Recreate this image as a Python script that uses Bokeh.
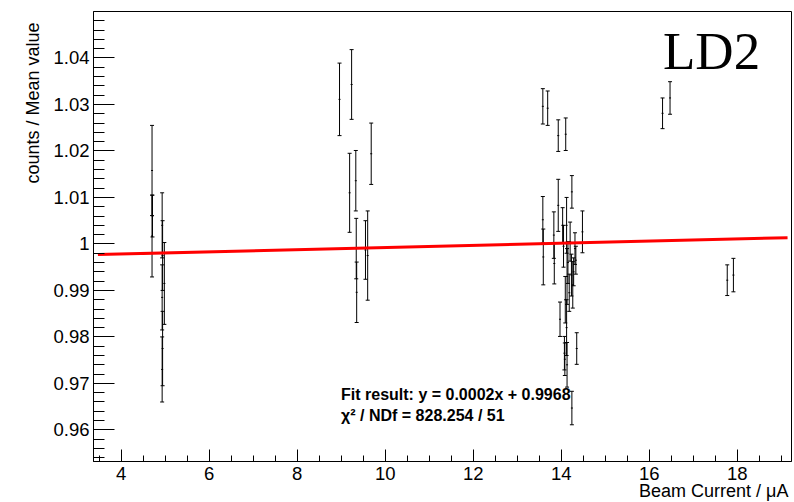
import math
from bokeh.plotting import figure
from bokeh.models import Range1d, FixedTicker, Label, ColumnDataSource, CustomJSTickFormatter, Title
from bokeh.embed import file_html
from bokeh.resources import INLINE

# ---------------- data ----------------
beam_current = [
    4.70, 4.71, 4.70, 4.93, 4.94, 4.93, 4.94, 4.93, 4.98,
    8.96, 9.235, 9.19, 9.33, 9.68, 9.34, 9.35, 9.55, 9.60,
    13.58, 13.69, 13.93, 14.10, 13.58, 13.59, 13.83, 13.84, 13.93, 14.24,
    14.03, 14.48, 14.12, 14.13, 14.12, 14.13, 14.20, 14.31, 14.23, 14.26,
    13.97, 14.35, 14.07, 14.08, 14.24, 14.15, 14.18, 14.28, 14.05, 14.09, 14.33,
    16.30, 16.47,
    17.77, 17.91,
]
ratio = [
    1.0158, 1.0060, 1.0017, 1.0040, 0.9975, 0.9885, 0.9775, 0.9730, 0.9915,
    1.0311, 1.0343, 1.0110, 1.0136, 1.0194, 0.9990, 0.9896, 0.9987, 0.9975,
    1.0296, 1.0292, 1.0233, 1.0236, 1.0052, 0.9972, 1.0019, 0.9958, 1.0083, 1.0112,
    1.0040, 1.0026, 1.0040, 0.9930, 0.9820, 0.9740, 1.0005, 0.9990, 0.9933, 0.9912,
    0.9838, 0.9775, 0.9765, 0.9752, 0.9647, 0.9960, 0.9895, 0.9940, 0.9995, 0.9880, 0.9965,
    1.0281, 1.0314,
    0.9922, 0.9933,
]
ratio_err = [
    0.0097, 0.0045, 0.0088, 0.0070, 0.0075, 0.0070, 0.0080, 0.0070, 0.0088,
    0.0078, 0.0075, 0.0085, 0.0065, 0.0066, 0.0065, 0.0065, 0.0063, 0.0096,
    0.0038, 0.0037, 0.0034, 0.0035, 0.0050, 0.0060, 0.0050, 0.0044, 0.0056, 0.0035,
    0.0038, 0.0045, 0.0060, 0.0060, 0.0060, 0.0048, 0.0042, 0.0034, 0.0045, 0.0050,
    0.0037, 0.0034, 0.0036, 0.0035, 0.0036, 0.0045, 0.0040, 0.0030, 0.0045, 0.0050, 0.0030,
    0.0033, 0.0035,
    0.0033, 0.0036,
]

fit_slope = 0.000232
fit_intercept = 0.9969
fit_x = [3.47, 19.14]

x_major = [4, 6, 8, 10, 12, 14, 16, 18]
x_minor = [3.5, 4.5, 5, 5.5, 6.5, 7, 7.5, 8.5, 9, 9.5, 10.5, 11, 11.5, 12.5, 13, 13.5,
           14.5, 15, 15.5, 16.5, 17, 17.5, 18.5, 19]
y_major = [0.96, 0.97, 0.98, 0.99, 1.00, 1.01, 1.02, 1.03, 1.04]
y_minor = [0.954, 0.956, 0.958, 0.962, 0.964, 0.966, 0.968, 0.972, 0.974, 0.976, 0.978,
           0.982, 0.984, 0.986, 0.988, 0.992, 0.994, 0.996, 0.998, 1.002, 1.004, 1.006,
           1.008, 1.012, 1.014, 1.016, 1.018, 1.022, 1.024, 1.026, 1.028, 1.032, 1.034,
           1.036, 1.038, 1.042, 1.044, 1.046, 1.048]

x_title = "Beam Current / \u03bcA"
y_title = "counts / Mean value"
fit_line1 = "Fit result: y = 0.0002x + 0.9968"
fit_line2 = "\u03c7\u00b2 / NDf = 828.254 / 51"
target_label = "LD2"

# ---------------- figure ----------------
W, H = 794, 502
p = figure(width=W, height=H, output_backend="svg", toolbar_location=None,
           x_range=Range1d(3.37, 19.23), y_range=Range1d(0.9532, 1.0500),
           min_border_left=93, min_border_right=3, min_border_top=11, min_border_bottom=41)
p.background_fill_color = "white"
p.border_fill_color = "white"
p.outline_line_color = "black"
p.outline_line_width = 1
p.xgrid.visible = False
p.ygrid.visible = False

font = "Liberation Sans"
for ax in (p.xaxis[0], p.yaxis[0]):
    ax.axis_line_color = "black"
    ax.major_tick_line_color = "black"
    ax.minor_tick_line_color = "black"
    ax.major_tick_out = 0
    ax.minor_tick_out = 0
    ax.major_label_text_font = font
    ax.major_label_text_font_size = "18.5px"
    ax.major_label_text_color = "black"
    ax.axis_label = None

p.xaxis[0].ticker = FixedTicker(ticks=x_major, minor_ticks=x_minor)
p.xaxis[0].major_tick_in = 12
p.xaxis[0].minor_tick_in = 6
p.xaxis[0].major_label_standoff = 5

p.yaxis[0].ticker = FixedTicker(ticks=y_major, minor_ticks=y_minor)
p.yaxis[0].major_tick_in = 21
p.yaxis[0].minor_tick_in = 11
p.yaxis[0].major_label_standoff = 4
p.yaxis[0].formatter = CustomJSTickFormatter(
    code="return tick.toFixed(2).replace(/\\.?0+$/, '');")
p.xaxis[0].formatter = CustomJSTickFormatter(code="return tick.toFixed(0);")

# ---------------- axis titles (as side titles, right-aligned like ROOT) ----------------
p.add_layout(Title(text=y_title, align="right", offset=11, standoff=16,
                   text_font=font, text_font_size="18px", text_font_style="normal",
                   text_color="black"), "left")
p.add_layout(Title(text=x_title, align="right", offset=3, standoff=-8,
                   text_font=font, text_font_size="18px", text_font_style="normal",
                   text_color="black"), "below")

# ---------------- error bars ----------------
lo = [y - e for y, e in zip(ratio, ratio_err)]
hi = [y + e for y, e in zip(ratio, ratio_err)]
src = ColumnDataSource(dict(x=beam_current, y=ratio, lo=lo, hi=hi))
p.segment(x0="x", y0="lo", x1="x", y1="hi", source=src, line_color="black", line_width=1)
p.scatter(x="x", y="hi", source=src, marker="dash", size=4, line_color="black", line_width=1)
p.scatter(x="x", y="lo", source=src, marker="dash", size=4, line_color="black", line_width=1)
p.scatter(x="x", y="y", source=src, marker="dash", size=2, line_color="black", line_width=1)

# ---------------- fit ----------------
fit_y = [fit_intercept + fit_slope * x for x in fit_x]
p.line(fit_x, fit_y, line_color="#ff0000", line_width=3)

# ---------------- texts ----------------
p.add_layout(Label(x=16.31, y=1.0414, text=target_label, text_font="Liberation Serif",
                   text_font_size="53px", text_color="black", text_baseline="alphabetic"))
p.add_layout(Label(x=8.995, y=0.96762, text=fit_line1, text_font=font,
                   text_font_style="bold", text_font_size="16px", text_color="black",
                   text_baseline="alphabetic"))
p.add_layout(Label(x=8.995, y=0.96304, text=fit_line2, text_font=font,
                   text_font_style="bold", text_font_size="16px", text_color="black",
                   text_baseline="alphabetic"))

open("out.html", "w").write(file_html(p, INLINE))
